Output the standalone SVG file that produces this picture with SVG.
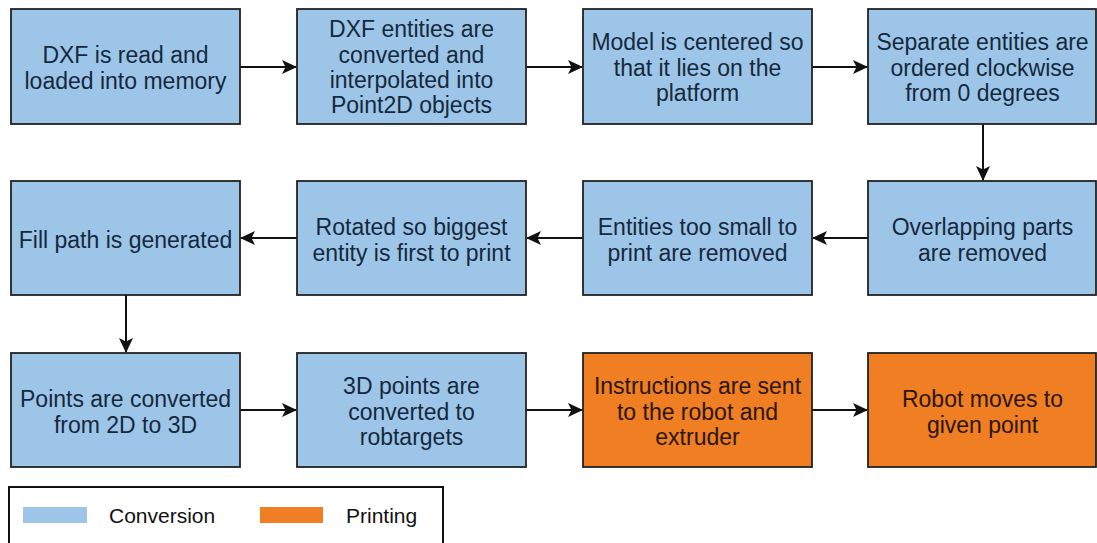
<svg xmlns="http://www.w3.org/2000/svg" width="1097" height="543" viewBox="0 0 1097 543">
<style>
.box{stroke:#222;stroke-width:1.8}
.conv{fill:#9dc5e8}
.print{fill:#f07e22}
.t{font-family:"Liberation Sans",Arial,sans-serif;font-size:23px;text-anchor:middle}
.tc{fill:#15293d}
.tp{fill:#2b1606}
.edge{stroke:#111;stroke-width:2;fill:none}
.leg{font-family:"Liberation Sans",Arial,sans-serif;font-size:21px;fill:#111}
</style>
<defs>
<marker id="arr" viewBox="0 0 15 14" refX="14" refY="7" markerWidth="15" markerHeight="14" markerUnits="userSpaceOnUse" orient="auto">
<path d="M0,0 L15,7 L0,14 L3.5,7 Z" fill="#111"/>
</marker>
</defs>
<rect width="1097" height="543" fill="#fff"/>
<g id="connectors">
<line class="edge" x1="240" y1="67" x2="296" y2="67" marker-end="url(#arr)"/>
<line class="edge" x1="526" y1="67" x2="582" y2="67" marker-end="url(#arr)"/>
<line class="edge" x1="812" y1="67" x2="867" y2="67" marker-end="url(#arr)"/>
<line class="edge" x1="983" y1="124" x2="983" y2="180" marker-end="url(#arr)"/>
<line class="edge" x1="868" y1="238" x2="813" y2="238" marker-end="url(#arr)"/>
<line class="edge" x1="583" y1="238" x2="527" y2="238" marker-end="url(#arr)"/>
<line class="edge" x1="297" y1="238" x2="241" y2="238" marker-end="url(#arr)"/>
<line class="edge" x1="126" y1="295" x2="126" y2="352" marker-end="url(#arr)"/>
<line class="edge" x1="240" y1="410" x2="296" y2="410" marker-end="url(#arr)"/>
<line class="edge" x1="526" y1="410" x2="582" y2="410" marker-end="url(#arr)"/>
<line class="edge" x1="812" y1="410" x2="867" y2="410" marker-end="url(#arr)"/>
</g>
<g id="n1"><rect class="box conv" x="11" y="9" width="229" height="115"/>
<text class="t tc" x="125.5"><tspan x="125.5" y="63">DXF is read and</tspan><tspan x="125.5" y="89">loaded into memory</tspan></text></g>
<g id="n2"><rect class="box conv" x="297" y="9" width="229" height="115"/>
<text class="t tc"><tspan x="411.5" y="37">DXF entities are</tspan><tspan x="411.5" y="63">converted and</tspan><tspan x="411.5" y="88">interpolated into</tspan><tspan x="411.5" y="113">Point2D objects</tspan></text></g>
<g id="n3"><rect class="box conv" x="583" y="9" width="229" height="115"/>
<text class="t tc"><tspan x="697.5" y="50">Model is centered so</tspan><tspan x="697.5" y="76">that it lies on the</tspan><tspan x="697.5" y="101">platform</tspan></text></g>
<g id="n4"><rect class="box conv" x="868" y="9" width="228" height="115"/>
<text class="t tc"><tspan x="982.5" y="50">Separate entities are</tspan><tspan x="982.5" y="76">ordered clockwise</tspan><tspan x="982.5" y="101">from 0 degrees</tspan></text></g>
<g id="n5"><rect class="box conv" x="868" y="181" width="228" height="114"/>
<text class="t tc"><tspan x="982.5" y="235">Overlapping parts</tspan><tspan x="982.5" y="261">are removed</tspan></text></g>
<g id="n6"><rect class="box conv" x="583" y="181" width="229" height="114"/>
<text class="t tc"><tspan x="697.5" y="235">Entities too small to</tspan><tspan x="697.5" y="261">print are removed</tspan></text></g>
<g id="n7"><rect class="box conv" x="297" y="181" width="229" height="114"/>
<text class="t tc"><tspan x="411.5" y="235">Rotated so biggest</tspan><tspan x="411.5" y="261">entity is first to print</tspan></text></g>
<g id="n8"><rect class="box conv" x="11" y="181" width="229" height="114"/>
<text class="t tc" x="125.5" y="248">Fill path is generated</text></g>
<g id="n9"><rect class="box conv" x="11" y="353" width="229" height="114"/>
<text class="t tc"><tspan x="125.5" y="407">Points are converted</tspan><tspan x="125.5" y="433">from 2D to 3D</tspan></text></g>
<g id="n10"><rect class="box conv" x="297" y="353" width="229" height="114"/>
<text class="t tc"><tspan x="411.5" y="394">3D points are</tspan><tspan x="411.5" y="420">converted to</tspan><tspan x="411.5" y="445">robtargets</tspan></text></g>
<g id="n11"><rect class="box print" x="583" y="353" width="229" height="114"/>
<text class="t tp"><tspan x="697.5" y="394">Instructions are sent</tspan><tspan x="697.5" y="420">to the robot and</tspan><tspan x="697.5" y="445">extruder</tspan></text></g>
<g id="n12"><rect class="box print" x="868" y="353" width="228" height="114"/>
<text class="t tp"><tspan x="982.5" y="407">Robot moves to</tspan><tspan x="982.5" y="433">given point</tspan></text></g>
<g id="legend">
<rect x="9" y="487" width="434" height="70" fill="#fff" stroke="#111" stroke-width="2"/>
<rect x="23" y="507" width="64" height="16" fill="#9dc5e8"/>
<text class="leg" x="109" y="523">Conversion</text>
<rect x="260" y="507" width="63" height="16" fill="#f07e22"/>
<text class="leg" x="346" y="523">Printing</text>
</g>
</svg>
